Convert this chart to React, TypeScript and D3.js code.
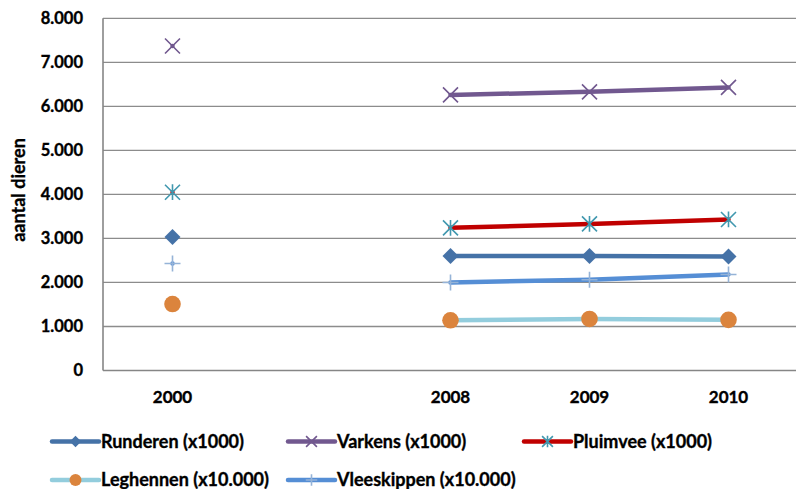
import React from "react";
import * as d3 from "d3";

const categories = ["2000", "", "2008", "2009", "2010"];
const yTicks = [0, 1000, 2000, 3000, 4000, 5000, 6000, 7000, 8000];
const runderen = [3030, null, 2600, 2600, 2590];
const varkens = [7370, null, 6260, 6330, 6430];
const pluimvee = [4050, null, 3240, 3330, 3430];
const leghennen = [1510, null, 1140, 1170, 1150];
const vleeskippen = [2430, null, 2000, 2060, 2180];
const seriesNames = [
  "Runderen (x1000)",
  "Varkens (x1000)",
  "Pluimvee (x1000)",
  "Leghennen (x10.000)",
  "Vleeskippen (x10.000)",
];

type MarkerKind = "diamond" | "x" | "star" | "circle" | "plus";

const seriesStyle: { values: (number | null)[]; line: string; marker: string; kind: MarkerKind }[] = [
  { values: runderen, line: "#4572A7", marker: "#4572A7", kind: "diamond" },
  { values: varkens, line: "#71588F", marker: "#71588F", kind: "x" },
  { values: pluimvee, line: "#C00000", marker: "#4198AF", kind: "star" },
  { values: leghennen, line: "#93CDDD", marker: "#DB843D", kind: "circle" },
  { values: vleeskippen, line: "#558ED5", marker: "#95B3D7", kind: "plus" },
];

const FONT = "Lato, 'Open Sans', sans-serif";
const textStyle = {
  fontFamily: FONT,
  fontWeight: "bold" as const,
  fill: "#000",
  stroke: "#000",
  strokeWidth: 0.35,
};

function Marker({ kind, x, y, color, s }: { kind: MarkerKind; x: number; y: number; color: string; s: number }) {
  if (kind === "diamond") {
    const h = 8 * s;
    return <path d={`M${x},${y - h}L${x + h},${y}L${x},${y + h}L${x - h},${y}Z`} fill={color} />;
  }
  if (kind === "circle") {
    return <circle cx={x} cy={y} r={8.3 * s} fill={color} />;
  }
  const h = 7.5 * s;
  const sw = 1.6;
  if (kind === "x") {
    return (
      <path d={`M${x - h},${y - h}L${x + h},${y + h}M${x - h},${y + h}L${x + h},${y - h}`} stroke={color} strokeWidth={sw} fill="none" />
    );
  }
  if (kind === "star") {
    return (
      <path
        d={`M${x - h},${y - h}L${x + h},${y + h}M${x - h},${y + h}L${x + h},${y - h}M${x},${y - h * 1.05}L${x},${y + h * 1.05}`}
        stroke={color}
        strokeWidth={sw}
        fill="none"
      />
    );
  }
  const p = 8 * s;
  return <path d={`M${x - p},${y}L${x + p},${y}M${x},${y - p}L${x},${y + p}`} stroke={color} strokeWidth={sw} fill="none" />;
}

export default function App() {
  const W = 796;
  const H = 489;
  const left = 103;
  const x = d3.scaleBand<string>().domain(categories).range([left, 798]);
  const y = d3.scaleLinear().domain([0, 8000]).range([370.5, 18.3]);
  const fmt = (v: number) => (v === 0 ? "0" : d3.format(",")(v).replace(/,/g, "."));
  const cx = (c: string) => (x(c) as number) + x.bandwidth() / 2;

  const line = d3
    .line<number | null>()
    .defined((d) => d != null)
    .x((_, i) => cx(categories[i]))
    .y((d) => y(d as number));

  const legendPos = [
    { x: 52, y: 441.5 },
    { x: 288, y: 441.5 },
    { x: 524, y: 441.5 },
    { x: 52, y: 480 },
    { x: 288, y: 480 },
  ];

  return (
    <svg width={W} height={H} style={{ position: "absolute", left: 0, top: 0, background: "#fff" }}>
      <rect width={W} height={H} fill="#fff" />
      {yTicks
        .filter((t) => t > 0)
        .map((t) => (
          <line key={t} x1={left} x2={W} y1={y(t)} y2={y(t)} stroke="#8C8C8C" strokeWidth={1.3} />
        ))}
      <line x1={left} x2={left} y1={y(8000)} y2={y(0)} stroke="#868686" strokeWidth={1.6} />
      <line x1={left} x2={W} y1={y(0)} y2={y(0)} stroke="#868686" strokeWidth={1.6} />
      {yTicks.map((t) => (
        <text key={t} x={83} y={y(t)} dy="0.36em" textAnchor="end" fontSize={16.5} style={textStyle}>
          {fmt(t)}
        </text>
      ))}
      {categories.map((c) => (
        <text key={c} x={cx(c)} y={396.5} dy="0.36em" textAnchor="middle" fontSize={17} style={textStyle}>
          {c}
        </text>
      ))}
      <text transform="translate(19,190) rotate(-90)" textAnchor="middle" dy="0.36em" fontSize={18} style={textStyle}>
        aantal dieren
      </text>
      {seriesStyle.map((s, i) => (
        <path key={"l" + i} d={line(s.values) || ""} stroke={s.line} strokeWidth={4.5} fill="none" strokeLinecap="round" />
      ))}
      {seriesStyle.map((s, i) =>
        s.values.map((v, j) =>
          v == null ? null : <Marker key={`m${i}-${j}`} kind={s.kind} x={cx(categories[j])} y={y(v)} color={s.marker} s={1} />
        )
      )}
      {seriesStyle.map((s, i) => {
        const p = legendPos[i];
        return (
          <g key={"lg" + i}>
            <line x1={p.x} x2={p.x + 47} y1={p.y} y2={p.y} stroke={s.line} strokeWidth={4.5} strokeLinecap="round" />
            <Marker kind={s.kind} x={p.x + 23.5} y={p.y} color={s.marker} s={0.72} />
            <text x={p.x + 49} y={p.y} dy="0.36em" fontSize={18} style={textStyle}>
              {seriesNames[i]}
            </text>
          </g>
        );
      })}
    </svg>
  );
}
